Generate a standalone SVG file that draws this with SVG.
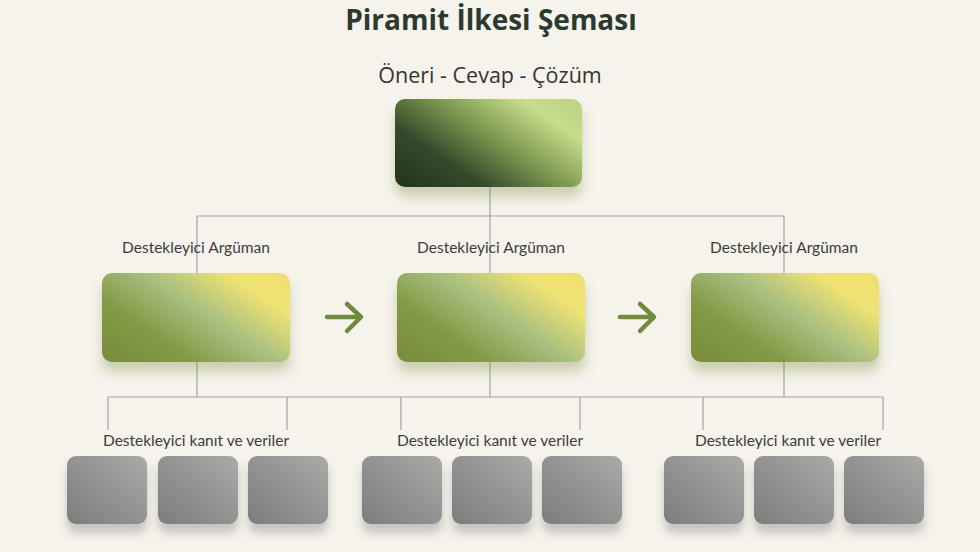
<svg xmlns="http://www.w3.org/2000/svg" width="980" height="552" viewBox="0 0 980 552">
<defs>
<style>
.title{font-family:"Open Sans","Liberation Sans",sans-serif;font-weight:700;font-size:28px;fill:#2c3a2e;text-anchor:middle}
.sub{font-family:"Open Sans","Liberation Sans",sans-serif;font-size:21.5px;fill:#333;text-anchor:middle}
.lbl{font-family:"Lato","Liberation Sans",sans-serif;font-size:15.5px;fill:#3c3c3c;text-anchor:middle}
.ln{stroke:#a3a3a0;stroke-width:1.2;fill:none}
.arr{stroke:#6f8a3a;stroke-width:4.5;fill:none;stroke-linecap:round;stroke-linejoin:round}
</style>
<linearGradient id="gTop" x1="0" y1="0.85" x2="1" y2="0.15">
<stop offset="0" stop-color="#26391f"/>
<stop offset="0.25" stop-color="#34492b"/>
<stop offset="0.55" stop-color="#7d9850"/>
<stop offset="0.85" stop-color="#c7dd8b"/>
<stop offset="1" stop-color="#bfd488"/>
</linearGradient>
<linearGradient id="gMid" x1="0" y1="0.85" x2="1" y2="0.15">
<stop offset="0" stop-color="#7a8f3d"/>
<stop offset="0.25" stop-color="#829a45"/>
<stop offset="0.55" stop-color="#a8bf80"/>
<stop offset="0.85" stop-color="#efe373"/>
<stop offset="1" stop-color="#f0e070"/>
</linearGradient>
<linearGradient id="gGray" x1="0" y1="1" x2="1" y2="0">
<stop offset="0" stop-color="#7d7d7d"/>
<stop offset="0.6" stop-color="#979797"/>
<stop offset="1" stop-color="#aaaaa8"/>
</linearGradient>
<filter id="shG" x="-20%" y="-20%" width="140%" height="160%">
<feDropShadow dx="0" dy="10" stdDeviation="6" flood-color="#7a8a40" flood-opacity="0.35"/>
</filter>
<filter id="shK" x="-20%" y="-20%" width="140%" height="160%">
<feDropShadow dx="0" dy="9" stdDeviation="5" flood-color="#555" flood-opacity="0.3"/>
</filter>
</defs>
<rect width="980" height="552" fill="#f6f3ec"/>
<text class="title" x="491" y="30">Piramit İlkesi Şeması</text>
<text class="sub" x="490" y="83">Öneri - Cevap - Çözüm</text>
<g id="connectors">
<path class="ln" d="M490 187V216M197 216H784M197 216V397M490 216V397M784 216V397"/>
<path class="ln" d="M108 397H883"/>
<path class="ln" d="M108 397V430M287 397V430M401 397V430M580 397V430M703 397V430M883 397V430"/>
<path class="arr" d="M327 317H361M347 304L361 317L347 331"/>
<path class="arr" d="M620 317H654M640 304L654 317L640 331"/>
</g>
<g id="node-top"><rect x="395" y="99" width="187" height="88" rx="10" fill="url(#gTop)" filter="url(#shG)"/></g>
<text class="lbl" x="196" y="253">Destekleyici Argüman</text>
<text class="lbl" x="491" y="253">Destekleyici Argüman</text>
<text class="lbl" x="784" y="253">Destekleyici Argüman</text>
<g id="node-a1"><rect x="102" y="273" width="188" height="89" rx="10" fill="url(#gMid)" filter="url(#shG)"/></g>
<g id="node-a2"><rect x="397" y="273" width="188" height="89" rx="10" fill="url(#gMid)" filter="url(#shG)"/></g>
<g id="node-a3"><rect x="691" y="273" width="188" height="89" rx="10" fill="url(#gMid)" filter="url(#shG)"/></g>
<text class="lbl" x="196" y="446">Destekleyici kanıt ve veriler</text>
<text class="lbl" x="490" y="446">Destekleyici kanıt ve veriler</text>
<text class="lbl" x="788" y="446">Destekleyici kanıt ve veriler</text>
<g id="node-e1"><rect x="67" y="456" width="80" height="68" rx="9" fill="url(#gGray)" filter="url(#shK)"/></g>
<g id="node-e2"><rect x="158" y="456" width="80" height="68" rx="9" fill="url(#gGray)" filter="url(#shK)"/></g>
<g id="node-e3"><rect x="248" y="456" width="80" height="68" rx="9" fill="url(#gGray)" filter="url(#shK)"/></g>
<g id="node-e4"><rect x="362" y="456" width="80" height="68" rx="9" fill="url(#gGray)" filter="url(#shK)"/></g>
<g id="node-e5"><rect x="452" y="456" width="80" height="68" rx="9" fill="url(#gGray)" filter="url(#shK)"/></g>
<g id="node-e6"><rect x="542" y="456" width="80" height="68" rx="9" fill="url(#gGray)" filter="url(#shK)"/></g>
<g id="node-e7"><rect x="664" y="456" width="80" height="68" rx="9" fill="url(#gGray)" filter="url(#shK)"/></g>
<g id="node-e8"><rect x="754" y="456" width="80" height="68" rx="9" fill="url(#gGray)" filter="url(#shK)"/></g>
<g id="node-e9"><rect x="844" y="456" width="80" height="68" rx="9" fill="url(#gGray)" filter="url(#shK)"/></g>
</svg>
